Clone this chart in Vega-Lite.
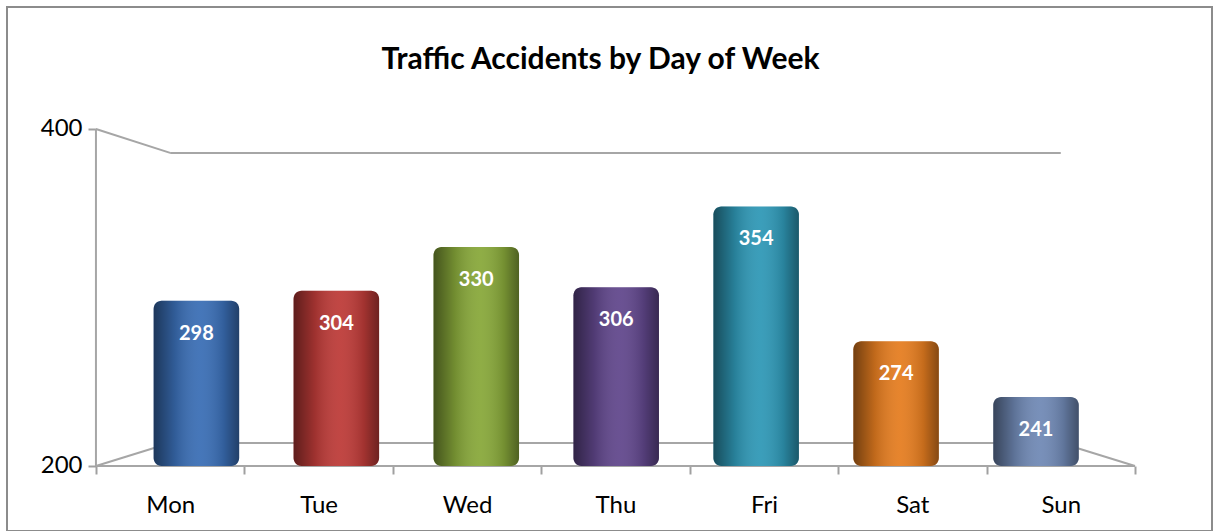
{
  "$schema": "https://vega.github.io/schema/vega-lite/v6.json",
  "width": 1205,
  "height": 524,
  "autosize": {"type": "none"},
  "padding": {"left": 7, "top": 7, "right": 7, "bottom": 0},
  "background": "white",
  "config": {
    "view": {"stroke": "#8c8c8c", "strokeWidth": 2},
    "font": "Lato"
  },
  "title": {
    "text": "Traffic Accidents by Day of Week",
    "font": "Lato",
    "fontSize": 30,
    "fontWeight": "bold",
    "color": "#000000",
    "anchor": "middle",
    "offset": -92,
    "baseline": "alphabetic",
    "dx": -9
  },
  "datasets": {
    "days": [
      {"day": "Mon", "accidents": 298},
      {"day": "Tue", "accidents": 304},
      {"day": "Wed", "accidents": 330},
      {"day": "Thu", "accidents": 306},
      {"day": "Fri", "accidents": 354},
      {"day": "Sat", "accidents": 274},
      {"day": "Sun", "accidents": 241}
    ]
  },
  "layer": [
    {
      "data": {"values": [{}]},
      "layer": [
        {
          "mark": {"type": "rule", "color": "#a6a6a6", "strokeWidth": 2},
          "encoding": {
            "x": {
              "datum": "Mon", "type": "nominal", "bandPosition": 0,
              "scale": {"type": "band", "domain": ["Mon", "Tue", "Wed", "Thu", "Fri", "Sat", "Sun"], "paddingInner": 0, "paddingOuter": 0.559, "align": 0.536},
              "axis": {"title": null, "domain": false, "tickBand": "extent", "labelAngle": 0, "labelFontSize": 24, "labelColor": "#000000", "labelFont": "Lato", "tickColor": "#a0a0a0", "tickSize": 8, "tickWidth": 2, "labelPadding": 19, "offset": -65, "grid": false}
            },
            "y": {
              "datum": 400, "type": "quantitative",
              "scale": {"domain": [161.4, 472.4], "nice": false, "zero": false},
              "axis": {"title": null, "values": [200, 400], "domain": false, "grid": false, "labelFontSize": 24, "labelColor": "#000000", "labelFont": "Lato", "tickColor": "#a0a0a0", "tickSize": 8, "tickWidth": 2, "labelPadding": 6, "offset": -89}
            },
            "y2": {"datum": 200}
          }
        },
        {
          "mark": {"type": "rule", "color": "#a6a6a6", "strokeWidth": 2},
          "encoding": {
            "x": {"datum": "Mon", "type": "nominal", "bandPosition": 0},
            "x2": {"datum": "Sun", "bandPosition": 1},
            "y": {"datum": 200, "type": "quantitative"}
          }
        },
        {
          "mark": {"type": "rule", "color": "#a6a6a6", "strokeWidth": 2},
          "encoding": {
            "x": {"datum": "Mon", "type": "nominal", "bandPosition": 0.5},
            "x2": {"datum": "Sun", "bandPosition": 0.5},
            "y": {"datum": 385.8, "type": "quantitative"}
          }
        },
        {
          "mark": {"type": "rule", "color": "#a6a6a6", "strokeWidth": 2},
          "encoding": {
            "x": {"datum": "Mon", "type": "nominal", "bandPosition": 0},
            "x2": {"datum": "Mon", "bandPosition": 0.5},
            "y": {"datum": 400, "type": "quantitative"},
            "y2": {"datum": 385.8}
          }
        },
        {
          "mark": {"type": "rule", "color": "#a6a6a6", "strokeWidth": 2},
          "encoding": {
            "x": {"datum": "Mon", "type": "nominal", "bandPosition": 0.5},
            "x2": {"datum": "Sun", "bandPosition": 0.5},
            "y": {"datum": 213.6, "type": "quantitative"}
          }
        },
        {
          "mark": {"type": "rule", "color": "#a6a6a6", "strokeWidth": 2},
          "encoding": {
            "x": {"datum": "Mon", "type": "nominal", "bandPosition": 0},
            "x2": {"datum": "Mon", "bandPosition": 0.5},
            "y": {"datum": 200, "type": "quantitative"},
            "y2": {"datum": 213.6}
          }
        },
        {
          "mark": {"type": "rule", "color": "#a6a6a6", "strokeWidth": 2},
          "encoding": {
            "x": {"datum": "Sun", "type": "nominal", "bandPosition": 0.5},
            "x2": {"datum": "Sun", "bandPosition": 1},
            "y": {"datum": 213.6, "type": "quantitative"},
            "y2": {"datum": 200}
          }
        }
      ]
    },
    {
      "data": {"name": "days"},
      "encoding": {
        "x": {
          "field": "day", "type": "nominal", "sort": null,
          "scale": {"type": "band", "domain": ["Mon", "Tue", "Wed", "Thu", "Fri", "Sat", "Sun"], "paddingInner": 0.389, "paddingOuter": 1.076, "align": 0.524},
          "axis": null
        },
        "y": {
          "field": "accidents", "type": "quantitative"
        }
      },
      "layer": [
        {
          "mark": {"type": "bar", "cornerRadius": 8},
          "encoding": {
            "y2": {"datum": 200},
            "color": {
              "field": "day", "type": "nominal", "sort": null, "legend": null,
              "scale": {
                "domain": ["Mon", "Tue", "Wed", "Thu", "Fri", "Sat", "Sun"],
                "range": ["#3a6eb5", "#bd3b38", "#88a83a", "#61478c", "#2f98b6", "#e57d20", "#7089b5"]
              }
            }
          }
        },
        {
          "mark": {
            "type": "bar", "cornerRadius": 8,
            "color": {
              "gradient": "linear", "x1": 0, "x2": 1, "y1": 0, "y2": 0,
              "stops": [
                {"offset": 0, "color": "rgba(0,0,0,0.5)"},
                {"offset": 0.25, "color": "rgba(0,0,0,0.16)"},
                {"offset": 0.55, "color": "rgba(255,255,255,0.06)"},
                {"offset": 0.82, "color": "rgba(0,0,0,0.14)"},
                {"offset": 1, "color": "rgba(0,0,0,0.42)"}
              ]
            }
          },
          "encoding": {"y2": {"datum": 200}}
        },
        {
          "mark": {"type": "text", "color": "white", "fontWeight": "bold", "fontSize": 20, "font": "Lato", "baseline": "middle", "dy": 33},
          "encoding": {"text": {"field": "accidents", "type": "quantitative"}}
        }
      ]
    }
  ],
  "resolve": {"scale": {"x": "independent"}}
}
